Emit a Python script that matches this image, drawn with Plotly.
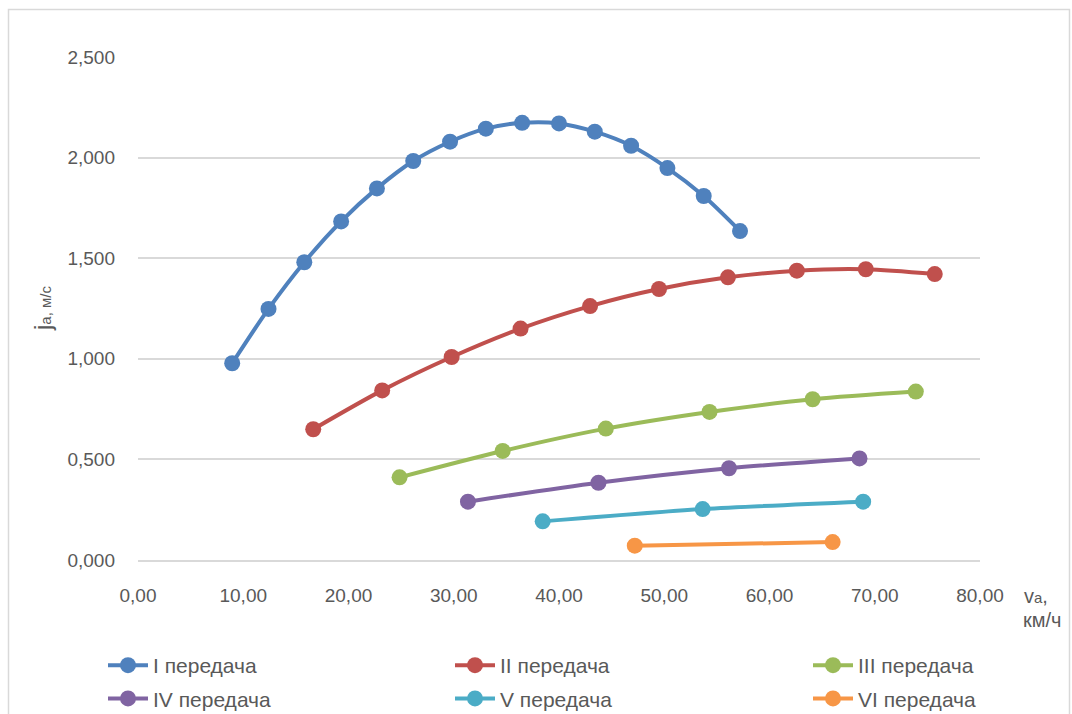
import plotly.graph_objects as go

# Скорость автомобиля, км/ч, и ускорение, м/с², по передачам
v_1 = [8.95, 12.40, 15.80, 19.30, 22.70, 26.15, 29.65, 33.05, 36.50, 40.00, 43.40, 46.85, 50.30, 53.75, 57.20]
j_1 = [0.978, 1.248, 1.480, 1.683, 1.847, 1.983, 2.079, 2.144, 2.173, 2.170, 2.129, 2.059, 1.948, 1.809, 1.635]

v_2 = [16.65, 23.20, 29.80, 36.35, 42.95, 49.50, 56.05, 62.60, 69.15, 75.70]
j_2 = [0.650, 0.843, 1.009, 1.150, 1.262, 1.347, 1.405, 1.438, 1.445, 1.421]

v_3 = [24.85, 34.65, 44.45, 54.30, 64.10, 73.90]
j_3 = [0.411, 0.542, 0.653, 0.736, 0.799, 0.837]

v_4 = [31.35, 43.75, 56.15, 68.55]
j_4 = [0.290, 0.384, 0.456, 0.505]

v_5 = [38.45, 53.65, 68.90]
j_5 = [0.192, 0.253, 0.290]

v_6 = [47.20, 66.00]
j_6 = [0.071, 0.089]

series_names = ["I передача", "II передача", "III передача",
                "IV передача", "V передача", "VI передача"]
series_colors = ["#4F81BD", "#C0504D", "#9BBB59", "#8064A2", "#4BACC6", "#F79646"]
series_x = [v_1, v_2, v_3, v_4, v_5, v_6]
series_y = [j_1, j_2, j_3, j_4, j_5, j_6]
series_legend = ["legend", "legend2", "legend3", "legend", "legend2", "legend3"]

x_ticks = [0, 10, 20, 30, 40, 50, 60, 70, 80]
x_labels = ["0,00", "10,00", "20,00", "30,00", "40,00", "50,00", "60,00", "70,00", "80,00"]
y_ticks = [0, 0.5, 1.0, 1.5, 2.0, 2.5]
y_labels = ["0,000", "0,500", "1,000", "1,500", "2,000", "2,500"]

FONT = "Liberation Sans, Arial, sans-serif"
TEXT = "#595959"
GRID = "#D9D9D9"

W, H = 1072, 714
L, R, T, B = 138, 92, 57, 154
PW, PH = W - L - R, H - T - B


def px(xp):
    return (xp - L) / PW


def py(yp):
    return (H - B - yp) / PH


fig = go.Figure()
for name, color, xs, ys, lg in zip(series_names, series_colors, series_x, series_y, series_legend):
    fig.add_trace(go.Scatter(
        x=xs, y=ys, name=name, mode="lines+markers",
        line=dict(color=color, width=4, shape="spline", smoothing=0.8),
        marker=dict(color=color, size=16),
        legend=lg, legendgroup=name,
    ))

legend_common = dict(
    orientation="v", xanchor="left", yanchor="top",
    font=dict(family=FONT, size=21, color=TEXT),
    bgcolor="rgba(0,0,0,0)", tracegroupgap=3, itemwidth=40,
)
ly = py(645)

fig.update_layout(
    width=W, height=H,
    margin=dict(l=L, r=R, t=T, b=B, pad=0, autoexpand=False),
    paper_bgcolor="white", plot_bgcolor="white",
    font=dict(family=FONT, color=TEXT),
    showlegend=True,
    legend=dict(x=px(103), y=ly, **legend_common),
    legend2=dict(x=px(450), y=ly, **legend_common),
    legend3=dict(x=px(808), y=ly, **legend_common),
    xaxis=dict(
        range=[0, 80], tickvals=x_ticks, ticktext=x_labels,
        showgrid=False, zeroline=False, showline=True, linecolor=GRID, linewidth=1.5,
        ticks="", tickfont=dict(family=FONT, size=19, color=TEXT),
        ticklabelstandoff=17, fixedrange=True, automargin=False,
    ),
    yaxis=dict(
        range=[0, 2.5], tickvals=y_ticks, ticktext=y_labels,
        showgrid=True, gridcolor=GRID, gridwidth=1.5, zeroline=False, showline=False,
        ticks="", tickfont=dict(family=FONT, size=19, color=TEXT),
        ticklabelstandoff=22, fixedrange=True, automargin=False,
    ),
    shapes=[dict(
        type="rect", xref="paper", yref="paper",
        x0=px(8.5), x1=px(1069.5), y0=py(730), y1=py(9.5),
        line=dict(color=GRID, width=1.5), fillcolor="rgba(0,0,0,0)", layer="below",
    )],
    annotations=[
        dict(xref="paper", yref="paper", x=px(42), y=py(308),
             text="j<span style='font-size:15px'>а, м/с</span>",
             textangle=-90, showarrow=False, xanchor="center", yanchor="middle",
             font=dict(family=FONT, size=24, color=TEXT)),
        dict(xref="paper", yref="paper", x=px(1022), y=py(596),
             text="v<span style='font-size:15px'>а</span>,",
             showarrow=False, xanchor="left", yanchor="middle",
             font=dict(family=FONT, size=20, color=TEXT)),
        dict(xref="paper", yref="paper", x=px(1063), y=py(620),
             text="км/ч", showarrow=False, xanchor="right", yanchor="middle",
             font=dict(family=FONT, size=20, color=TEXT)),
    ],
)

fig.write_html("out.html")
